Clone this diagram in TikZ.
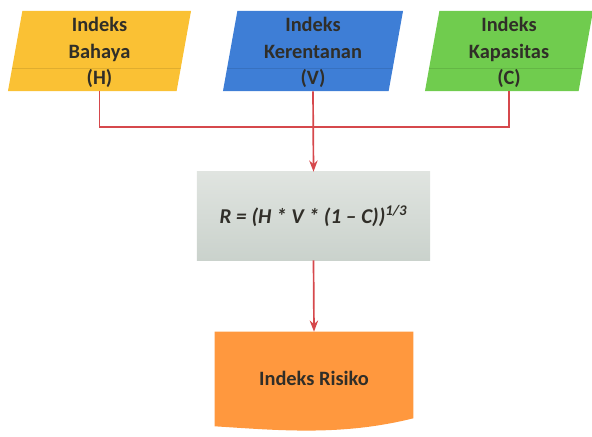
\documentclass[tikz,border=0pt]{standalone}
\usepackage{fontspec}
\setmainfont{Carlito}
\usetikzlibrary{shapes.geometric,arrows.meta,backgrounds}
\definecolor{kuning}{RGB}{250,193,52}
\definecolor{biru}{RGB}{62,126,214}
\definecolor{hijau}{RGB}{112,204,78}
\definecolor{oranye}{RGB}{255,152,62}
\definecolor{abuatas}{RGB}{224,228,224}
\definecolor{abubawah}{RGB}{202,210,204}
\definecolor{garis}{RGB}{214,72,76}
\definecolor{teks}{RGB}{48,46,40}
\tikzset{
  indeks/.style={trapezium, trapezium left angle=78, trapezium right angle=102,
    trapezium stretches body=true,
    minimum height=2cm, inner sep=0pt, align=center, fill=#1, text=teks,
    font=\bfseries\fontsize{14.5}{19}\selectfont, text depth=-2pt,
    path picture={\draw[line width=0.7pt,#1!80!black,opacity=0.5]
      ([yshift=0.575cm]path picture bounding box.south west) --
      ([yshift=0.575cm]path picture bounding box.south east);}},
  link/.style={draw=garis, line width=1.2pt},
  panah/.style={link, -{Stealth[length=8pt,width=6pt]}}
}
\begin{document}
\begin{tikzpicture}[x=0.025cm, y=-0.025cm]
  \useasboundingbox (0,0) rectangle (592,436);
  % masukan
  \node[indeks=kuning, minimum width=4.575cm] (bahaya) at (99.5,51) {Indeks\\Bahaya\\(H)};
  \node[indeks=biru, minimum width=4.5cm] (kerentanan) at (313,51) {Indeks\\Kerentanan\\(V)};
  \node[indeks=hijau, minimum width=4.2cm] (kapasitas) at (509,51) {Indeks\\Kapasitas\\(C)};
  % rumus
  \node[rectangle, minimum width=5.825cm, minimum height=2.2cm, top color=abuatas,
    bottom color=abubawah, text=teks, font=\bfseries\itshape\fontsize{15}{18}\selectfont]
    (rumus) at (313.5,216) {R = (H * V * (1 -- C))\textsuperscript{1/3}};
  % hasil
  \node[rectangle, minimum width=4.95cm, minimum height=2.3cm, text=teks,
    font=\bfseries\fontsize{14.5}{18}\selectfont] (risiko) at (314,378) {Indeks Risiko};
  \begin{pgfonlayer}{background}
    \fill[oranye] (risiko.north west) -- (risiko.north east) -- ([yshift=0.15cm]risiko.south east)
      .. controls +(-1.8cm,-0.45cm) and +(1.6cm,-0.1cm) .. ([yshift=-0.05cm]risiko.south west) -- cycle;
  \end{pgfonlayer}
  \coordinate (simpul) at (313,127);
  \draw[link] (bahaya.south) |- (simpul) -| (kapasitas.south);
  \draw[panah] (kerentanan.south) -- (rumus.north);
  \draw[panah] (rumus.south) -- (risiko.north);
\end{tikzpicture}
\end{document}
